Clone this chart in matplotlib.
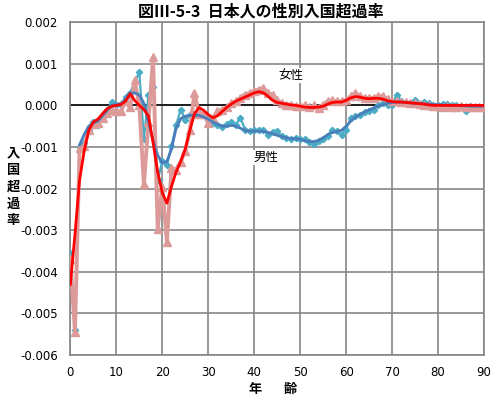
import matplotlib
matplotlib.use("Agg")
import matplotlib.pyplot as plt
import numpy as np
from matplotlib.ticker import FormatStrFormatter, MultipleLocator

plt.rcParams["font.family"] = ["DejaVu Sans", "Noto Sans CJK JP"]

# values, in units of 0.001
ages = list(range(0, 91))

male_raw = [
    -3.55, -5.40, -1.00, -0.90, -0.58, -0.40, -0.46, -0.28, -0.12, 0.08,
    0.00, 0.00, 0.20, 0.30, 0.55, 0.80, -0.80, 0.26, 0.45, -1.80,
    -1.34, -1.44, -0.98, -0.48, -0.10, -0.34, -0.24, -0.20, -0.18, -0.24,
    -0.34, -0.42, -0.46, -0.52, -0.45, -0.40, -0.46, -0.30, -0.58, -0.62,
    -0.60, -0.58, -0.60, -0.70, -0.64, -0.62, -0.74, -0.78, -0.80, -0.78,
    -0.80, -0.82, -0.88, -0.94, -0.86, -0.82, -0.74, -0.58, -0.62, -0.70,
    -0.58, -0.30, -0.26, -0.22, -0.16, -0.14, -0.10, 0.02, 0.06, 0.00,
    0.00, 0.26, 0.10, 0.06, 0.05, 0.12, 0.04, 0.08, 0.05, 0.02,
    0.02, 0.04, 0.03, 0.00, 0.02, -0.02, -0.14, -0.02, -0.05, -0.05,
    -0.05,
]

female_raw = [
    -3.68, -5.45, -1.02, -0.98, -0.60, -0.45, -0.42, -0.30, -0.18, -0.12,
    -0.14, -0.14, 0.10, -0.05, 0.60, 0.00, -1.90, -0.40, 1.15, -2.96,
    -1.95, -3.28, -1.50, -1.55, -1.35, -1.10, -0.58, 0.30, -0.20, -0.20,
    -0.42, -0.30, -0.14, -0.10, -0.05, 0.05, 0.10, 0.18, 0.26, 0.30,
    0.35, 0.38, 0.42, 0.30, 0.26, 0.12, 0.05, 0.02, 0.02, -0.02,
    -0.02, 0.00, -0.05, 0.00, -0.06, 0.02, 0.10, 0.12, 0.10, 0.10,
    0.14, 0.22, 0.30, 0.22, 0.18, 0.18, 0.18, 0.22, 0.22, 0.15,
    0.10, 0.10, 0.08, 0.07, 0.06, 0.05, 0.04, 0.02, 0.00, -0.02,
    -0.02, -0.03, -0.02, -0.03, -0.03, -0.02, -0.03, -0.03, -0.03, -0.03,
    -0.03,
]

female_smooth = [
    -4.30, -3.10, -1.80, -1.10, -0.60, -0.40, -0.33, -0.20, -0.08, -0.02,
    0.00, 0.02, 0.10, 0.28, 0.12, 0.00, -0.10, -0.26, -0.90, -1.60,
    -2.10, -2.35, -1.95, -1.60, -1.35, -1.05, -0.60, -0.20, -0.05, -0.12,
    -0.22, -0.30, -0.25, -0.15, -0.05, 0.03, 0.10, 0.15, 0.20, 0.25,
    0.30, 0.33, 0.30, 0.22, 0.12, 0.07, 0.05, 0.03, 0.01, 0.00,
    -0.02, -0.04, -0.05, -0.05, -0.04, -0.02, 0.03, 0.07, 0.08, 0.08,
    0.12, 0.18, 0.21, 0.20, 0.17, 0.16, 0.17, 0.17, 0.15, 0.11,
    0.09, 0.08, 0.08, 0.07, 0.06, 0.05, 0.04, 0.03, 0.01, 0.00,
    0.00, 0.00, 0.00, 0.00, 0.00, 0.00, 0.00, 0.00, 0.00, 0.00,
    0.00,
]

male_smooth_ages = list(range(2, 91))
male_smooth = [
    -0.95, -0.70, -0.50, -0.42, -0.38, -0.25, -0.12, 0.00,
    0.02, 0.05, 0.15, 0.30, 0.30, 0.25, 0.05, -0.40, -0.85, -1.20,
    -1.38, -1.35, -1.05, -0.55, -0.32, -0.26, -0.24, -0.24, -0.24, -0.28,
    -0.33, -0.40, -0.45, -0.50, -0.50, -0.48, -0.50, -0.55, -0.60, -0.62,
    -0.62, -0.62, -0.62, -0.65, -0.68, -0.72, -0.75, -0.78, -0.80, -0.80,
    -0.82, -0.85, -0.87, -0.87, -0.84, -0.78, -0.70, -0.65, -0.63, -0.60,
    -0.50, -0.38, -0.28, -0.22, -0.16, -0.11, -0.06, -0.02, 0.02, 0.05,
    0.07, 0.08, 0.08, 0.07, 0.06, 0.05, 0.05, 0.04, 0.03, 0.02,
    0.02, 0.01, 0.01, 0.00, 0.00, -0.01, -0.01, -0.02, -0.02, -0.02,
    -0.02,
]

scale = 1e-3
jp = ["Noto Sans CJK JP"]

fig = plt.figure(figsize=(4.99, 3.95), dpi=100)
ax = fig.add_axes([0.141, 0.101, 0.829, 0.843])

ax.plot(ages, np.array(male_raw) * scale, color="#4bacc6", lw=1.6,
        marker="D", ms=3.2, mec="#4bacc6", mfc="#4bacc6", zorder=3)
ax.plot(ages, np.array(female_raw) * scale, color="#dc9a99", lw=2.8,
        marker="^", ms=5.5, mec="#dc9a99", mfc="#dc9a99", zorder=4)
ax.plot(male_smooth_ages, np.array(male_smooth) * scale, color="#4a7ebb",
        lw=2.0, zorder=5)
ax.plot(ages, np.array(female_smooth) * scale, color="#ff0000", lw=2.0,
        zorder=6)

ax.axhline(0, color="black", lw=1.1, zorder=2)

ax.set_xlim(0, 90)
ax.set_ylim(-0.006, 0.002)
ax.xaxis.set_major_locator(MultipleLocator(10))
ax.yaxis.set_major_locator(MultipleLocator(0.001))
ax.yaxis.set_major_formatter(FormatStrFormatter("%.3f"))
ax.grid(True, color="#868686", lw=1.2, zorder=1)
ax.set_axisbelow(True)
for s in ax.spines.values():
    s.set_color("#868686")
    s.set_linewidth(1.2)
ax.tick_params(length=0, labelsize=8.5)
ax.tick_params(axis="y", pad=9)
ax.tick_params(axis="x", pad=8)

fig.text(0.523, 0.972, "図Ⅲ-5-3  日本人の性別入国超過率", ha="center", va="center",
         fontsize=11.5, fontweight="bold", family=jp)
fig.text(0.027, 0.527, "入\n国\n超\n過\n率", ha="center", va="center",
         fontsize=9.5, fontweight="bold", family=jp, linespacing=1.25)
# x label drawn as two characters, as spaced in the original
fig.text(255 / 499, 0.014, "年", ha="center", va="center",
         fontsize=9.5, fontweight="bold", family=jp)
fig.text(290 / 499, 0.014, "齢", ha="center", va="center",
         fontsize=9.5, fontweight="bold", family=jp)

ax.text(48, 0.00072, "女性", ha="center", va="center", fontsize=9,
        family=jp, bbox=dict(fc="white", ec="none", pad=1))
ax.text(42.5, -0.00125, "男性", ha="center", va="center", fontsize=9,
        family=jp, bbox=dict(fc="white", ec="none", pad=1))

fig.savefig("out.png", dpi=100)
